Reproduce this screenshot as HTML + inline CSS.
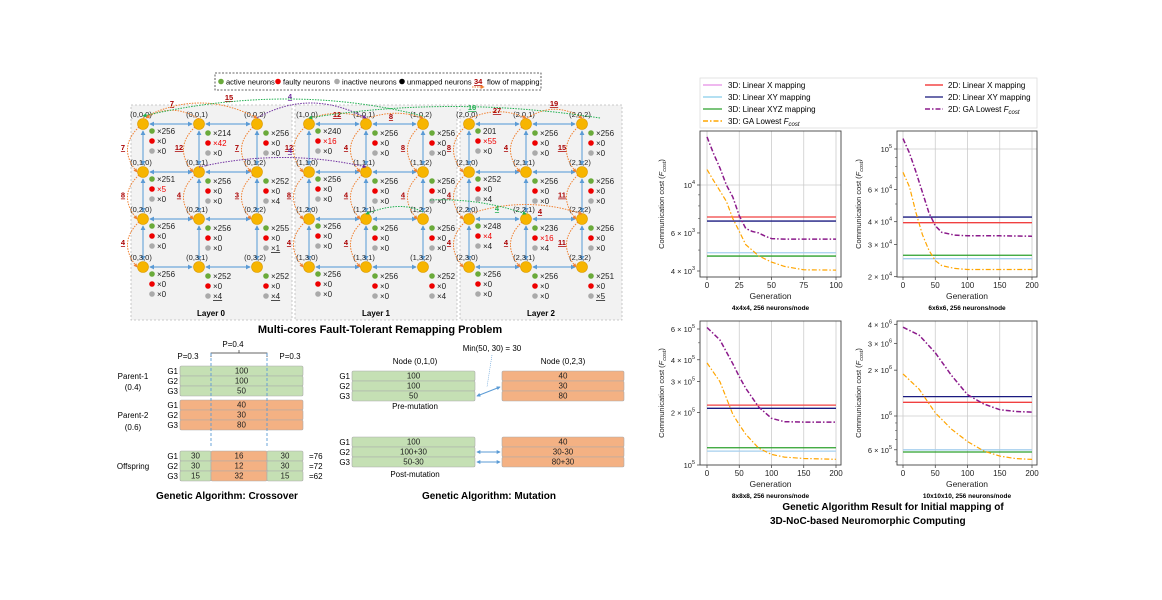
<!DOCTYPE html>
<html><head><meta charset="utf-8">
<style>
html,body{margin:0;padding:0;background:#fff;}
svg{display:block;font-family:"Liberation Sans",Arial,sans-serif;}
</style></head>
<body>
<svg id="root" width="1162" height="600" viewBox="0 0 1162 600" xmlns="http://www.w3.org/2000/svg">
<defs>
<marker id="ab" viewBox="0 0 6 6" refX="5" refY="3" markerWidth="4" markerHeight="4" orient="auto-start-reverse"><path d="M0,0L6,3L0,6z" fill="#5b9bd5"/></marker>
<marker id="ao" viewBox="0 0 6 6" refX="5" refY="3" markerWidth="4" markerHeight="4" orient="auto"><path d="M0,0L6,3L0,6z" fill="#f08030"/></marker>
<marker id="ap" viewBox="0 0 6 6" refX="5" refY="3" markerWidth="4" markerHeight="4" orient="auto"><path d="M0,0L6,3L0,6z" fill="#7030a0"/></marker>
<marker id="ag" viewBox="0 0 6 6" refX="5" refY="3" markerWidth="4" markerHeight="4" orient="auto"><path d="M0,0L6,3L0,6z" fill="#20b050"/></marker>
</defs>

<g>
<rect x="215" y="73" width="326" height="17" fill="#fff" stroke="#333" stroke-dasharray="2,1.5" stroke-width="0.8"/>
<circle cx="221" cy="81.5" r="2.8" fill="#6aaa3a"/><text x="226" y="84.5" font-size="7.5">active neurons</text>
<circle cx="278" cy="81.5" r="2.8" fill="#e00"/><text x="283" y="84.5" font-size="7.5">faulty neurons</text>
<circle cx="337" cy="81.5" r="2.8" fill="#aaa"/><text x="342" y="84.5" font-size="7.5">inactive neurons</text>
<circle cx="402" cy="81.5" r="2.8" fill="#000"/><text x="407" y="84.5" font-size="7.5">unmapped neurons</text>
<text x="474" y="84" font-size="7.5" fill="#a00" font-weight="bold" text-decoration="underline">34</text>
<path d="M472,87 L484,87" stroke="#f08030" stroke-dasharray="1.5,1" marker-end="url(#ao)"/>
<text x="487" y="84.5" font-size="7.5">flow of mapping</text>
</g>

<rect x="131" y="105" width="161" height="215" fill="#f2f2f2" stroke="#bbb" stroke-dasharray="2,2" stroke-width="0.8"/>
<rect x="295" y="105" width="162" height="215" fill="#f2f2f2" stroke="#bbb" stroke-dasharray="2,2" stroke-width="0.8"/>
<rect x="460" y="105" width="162" height="215" fill="#f2f2f2" stroke="#bbb" stroke-dasharray="2,2" stroke-width="0.8"/>
<text x="211" y="316" font-size="8" font-weight="bold" text-anchor="middle">Layer 0</text>
<text x="376" y="316" font-size="8" font-weight="bold" text-anchor="middle">Layer 1</text>
<text x="541" y="316" font-size="8" font-weight="bold" text-anchor="middle">Layer 2</text>
<g id="diag"></g>
<g id="arcs"></g>

<text x="380" y="333" font-size="11" font-weight="bold" text-anchor="middle">Multi-cores Fault-Tolerant Remapping Problem</text>

<g font-size="8">
<text x="233" y="347" text-anchor="middle">P=0.4</text>
<path d="M211,357 L211,353 L267,353 L267,357 M239,353 L239,350" fill="none" stroke="#333" stroke-width="0.7"/>
<text x="188" y="359" text-anchor="middle">P=0.3</text>
<text x="290" y="359" text-anchor="middle">P=0.3</text>
<text x="133" y="379" text-anchor="middle">Parent-1</text><text x="133" y="390" text-anchor="middle">(0.4)</text>
<text x="133" y="418" text-anchor="middle">Parent-2</text><text x="133" y="430" text-anchor="middle">(0.6)</text>
<text x="133" y="469" text-anchor="middle">Offspring</text>
<g id="cross"></g>
<line x1="211" y1="353" x2="211" y2="448" stroke="#5b9bd5" stroke-dasharray="3,2" stroke-width="0.9"/>
<line x1="267" y1="353" x2="267" y2="448" stroke="#5b9bd5" stroke-dasharray="3,2" stroke-width="0.9"/>
</g>
<text x="227" y="499" font-size="10" font-weight="bold" text-anchor="middle">Genetic Algorithm: Crossover</text>

<g font-size="8">
<text x="415" y="364" text-anchor="middle">Node (0,1,0)</text>
<text x="563" y="364" text-anchor="middle">Node (0,2,3)</text>
<text x="492" y="351" text-anchor="middle">Min(50, 30) = 30</text>
<line x1="492" y1="355" x2="487" y2="387" stroke="#5b9bd5" stroke-dasharray="1,1" stroke-width="0.6"/>
<text x="415" y="409" text-anchor="middle">Pre-mutation</text>
<text x="415" y="477" text-anchor="middle">Post-mutation</text>
<g id="mut"></g>
<line x1="477" y1="396" x2="500" y2="387" stroke="#5b9bd5" stroke-width="1" marker-start="url(#ab)" marker-end="url(#ab)"/>
<line x1="477" y1="452" x2="500" y2="452" stroke="#5b9bd5" stroke-width="1" marker-start="url(#ab)" marker-end="url(#ab)"/>
<line x1="477" y1="462" x2="500" y2="462" stroke="#5b9bd5" stroke-width="1" marker-start="url(#ab)" marker-end="url(#ab)"/>
</g>
<text x="489" y="499" font-size="10" font-weight="bold" text-anchor="middle">Genetic Algorithm: Mutation</text>

<g font-size="8">
<rect x="700" y="78" width="337" height="50" fill="#fff" stroke="#ddd" stroke-width="0.8"/>
<line x1="703" y1="85" x2="722" y2="85" stroke="#e58ee5" stroke-width="1.2"/><text x="728" y="88">3D: Linear X mapping</text>
<line x1="703" y1="97" x2="722" y2="97" stroke="#87ceeb" stroke-width="1.2"/><text x="728" y="100">3D: Linear XY mapping</text>
<line x1="703" y1="109" x2="722" y2="109" stroke="#2ca02c" stroke-width="1.2"/><text x="728" y="112">3D: Linear XYZ mapping</text>
<line x1="703" y1="121" x2="722" y2="121" stroke="#ffa500" stroke-width="1.4" stroke-dasharray="5,2,1.5,2"/><text x="728" y="124">3D: GA Lowest <tspan font-style="italic">F</tspan><tspan font-size="6" dy="2" font-style="italic">cost</tspan></text>
<line x1="925" y1="85" x2="943" y2="85" stroke="#f02020" stroke-width="1.2"/><text x="948" y="88">2D: Linear X mapping</text>
<line x1="925" y1="97" x2="943" y2="97" stroke="#14147a" stroke-width="1.2"/><text x="948" y="100">2D: Linear XY mapping</text>
<line x1="925" y1="109" x2="943" y2="109" stroke="#8b1a8b" stroke-width="1.6" stroke-dasharray="5,2,1.5,2"/><text x="948" y="112">2D: GA Lowest <tspan font-style="italic">F</tspan><tspan font-size="6" dy="2" font-style="italic">cost</tspan></text>
</g>
<g id="charts"></g>
<text x="893" y="510" font-size="10" font-weight="bold" text-anchor="middle">Genetic Algorithm Result for Initial mapping of</text>
<text x="770" y="524" font-size="10" font-weight="bold">3D-NoC-based Neuromorphic Computing</text>
</svg>

<script>
const gens1 = [0,5,10,15,20,25,30,35,40,45,50,60,75,100];
const purple1 = [16700,14000,12000,10000,8800,7200,6300,6100,6000,5800,5650,5620,5620,5620];
const orange1 = [11800,10500,9400,8400,7000,6100,5300,5000,4700,4550,4400,4200,4050,4040];
const flat1 = [7110,6810,4860,4690];

const gens2 = [0,10,20,30,40,50,60,80,100,150,200];
const purple2 = [114000,95000,75000,58000,45000,38000,35000,33800,33500,33500,33300];
const orange2 = [74600,62000,45000,34000,28000,24500,23000,22200,21900,21900,21900];
const flat2 = [39500,42400,25100,26200];

const gens3 = [0,20,40,50,60,80,100,120,150,200];
const purple3 = [612000,520000,380000,320000,275000,215000,185000,177000,176000,176000];
const orange3 = [384000,300000,195000,170000,150000,125000,115000,111000,109000,107800];
const flat3 = [220000,211000,120000,125500];

const gens4 = [0,25,50,75,100,125,150,175,200];
const purple4 = [3830000,3400000,2600000,1850000,1380000,1200000,1100000,1070000,1060000];
const orange4 = [1890000,1500000,1050000,820000,680000,590000,545000,525000,519000];
const flat4 = [1230000,1340000,600000,580000];

const flatColors = ['#f04040','#1a1a80','#a6cfee','#2ca02c'];
const flatNames = ['line-2d-linear-x','line-2d-linear-xy','line-3d-linear-xy','line-3d-linear-xyz'];

const NS='http://www.w3.org/2000/svg';
function mk(tag,attrs,parent,txt){const e=document.createElementNS(NS,tag);for(const k in attrs)e.setAttribute(k,attrs[k]);if(txt!==undefined)e.textContent=txt;parent.appendChild(e);return e;}

const charts=[
 {gens:gens1,purple:purple1,orange:orange1,flat:flat1,px:[700,841],py:[131,277],gx:[0,100,707,836],gy:[4000,271,10000,185],
  xt:[0,25,50,75,100],yt:[[10000,'10','4'],[6000,'6 × 10','3'],[4000,'4 × 10','3']],major:[10000],sub:'4x4x4, 256 neurons/node',minors:[5000,7000,8000,9000,20000]},
 {gens:gens2,purple:purple2,orange:orange2,flat:flat2,px:[897,1037],py:[131,277],gx:[0,200,903,1032],gy:[20000,276.7,100000,149],
  xt:[0,50,100,150,200],yt:[[100000,'10','5'],[60000,'6 × 10','4'],[40000,'4 × 10','4'],[30000,'3 × 10','4'],[20000,'2 × 10','4']],major:[100000],sub:'6x6x6, 256 neurons/node',minors:[50000,70000,80000,90000]},
 {gens:gens3,purple:purple3,orange:orange3,flat:flat3,px:[700,841],py:[321,465],gx:[0,200,707,836],gy:[100000,465,600000,329],
  xt:[0,50,100,150,200],yt:[[600000,'6 × 10','5'],[400000,'4 × 10','5'],[300000,'3 × 10','5'],[200000,'2 × 10','5'],[100000,'10','5']],major:[100000],sub:'8x8x8, 256 neurons/node',minors:[500000]},
 {gens:gens4,purple:purple4,orange:orange4,flat:flat4,px:[897,1037],py:[321,465],gx:[0,200,903,1032],gy:[1000000,416,4000000,324.3],
  xt:[0,50,100,150,200],yt:[[4000000,'4 × 10','6'],[3000000,'3 × 10','6'],[2000000,'2 × 10','6'],[1000000,'10','6'],[600000,'6 × 10','5']],major:[1000000],sub:'10x10x10, 256 neurons/node',minors:[700000,800000,900000,500000]}
];
const root=document.getElementById('charts');
charts.forEach((c,i)=>{
  const g=mk('g',{},root);
  
  
  const X=v=>c.gx[2]+(v-c.gx[0])/(c.gx[1]-c.gx[0])*(c.gx[3]-c.gx[2]);
  const ppd=(c.gy[1]-c.gy[3])/(Math.log10(c.gy[2])-Math.log10(c.gy[0]));
  const Y=v=>c.gy[1]-(Math.log10(v)-Math.log10(c.gy[0]))*ppd;
  mk('rect',{x:c.px[0],y:c.py[0],width:c.px[1]-c.px[0],height:c.py[1]-c.py[0],fill:'#fff'},g);
  c.xt.forEach(t=>{
    mk('line',{x1:X(t),x2:X(t),y1:c.py[0],y2:c.py[1],stroke:'#ccc','stroke-width':0.8},g);
    mk('line',{x1:X(t),x2:X(t),y1:c.py[1],y2:c.py[1]+3,stroke:'#333','stroke-width':0.7},g);
    const tl=mk('text',{x:X(t),y:c.py[1]+11,'font-size':8,'text-anchor':'middle',fill:'#222'},g,String(t));
    
    
  });
  c.major.forEach(v=>mk('line',{x1:c.px[0],x2:c.px[1],y1:Y(v),y2:Y(v),stroke:'#ccc','stroke-width':0.8},g));
  c.minors.forEach(v=>{const y=Y(v);if(y>c.py[0]&&y<c.py[1])mk('line',{x1:c.px[0]-2,x2:c.px[0],y1:y,y2:y,stroke:'#333','stroke-width':0.5},g);});
  c.yt.forEach(t=>{
    const y=Y(t[0]);
    mk('line',{x1:c.px[0]-3,x2:c.px[0],y1:y,y2:y,stroke:'#333','stroke-width':0.7},g);
    const tl=mk('text',{x:c.px[0]-5,y:y+3,'font-size':7.5,'text-anchor':'end',fill:'#222'},g);
    
    
    mk('tspan',{},tl,t[1]);
    mk('tspan',{'font-size':5.5,dy:-4},tl,t[2]);
  });
  c.flat.forEach((v,k)=>{
    const l=mk('line',{x1:X(c.gx[0]),x2:X(c.gx[1]),y1:Y(v),y2:Y(v),stroke:flatColors[k],'stroke-width':1.3},g);
    
    
  });
  const pts=(arr)=>arr.map((v,k)=>X(c.gens[k]).toFixed(1)+','+Y(v).toFixed(1)).join(' ');
  const po=mk('polyline',{points:pts(c.orange),fill:'none',stroke:'#ffa500','stroke-width':1.2,'stroke-dasharray':'5,2,1.5,2'},g);
  
  
  const pp=mk('polyline',{points:pts(c.purple),fill:'none',stroke:'#8b1a8b','stroke-width':1.5,'stroke-dasharray':'5,2,1.5,2'},g);
  
  
  mk('rect',{x:c.px[0],y:c.py[0],width:c.px[1]-c.px[0],height:c.py[1]-c.py[0],fill:'none',stroke:'#444','stroke-width':0.9},g);
  const cx=(c.px[0]+c.px[1])/2;
  const xl=mk('text',{x:cx,y:c.py[1]+22,'font-size':8.5,'text-anchor':'middle',fill:'#222'},g,'Generation');
  
  
  const st=mk('text',{x:cx,y:c.py[1]+33,'font-size':6.5,'font-weight':'bold','text-anchor':'middle'},g,c.sub);
  
  
  const ax=c.px[0]-36, ay=(c.py[0]+c.py[1])/2;
  const yl=mk('text',{x:ax,y:ay,'font-size':7.5,'text-anchor':'middle',fill:'#222',transform:'rotate(-90 '+ax+' '+ay+')'},g);
  
  
  mk('tspan',{},yl,'Communication cost (');
  mk('tspan',{'font-style':'italic'},yl,'F');
  mk('tspan',{'font-style':'italic','font-size':5.5,dy:2},yl,'cost');
  mk('tspan',{dy:-2},yl,')');
});

const colX=[[143,199,257],[309,366,423],[469,526,582]];
const rowY=[124,172,219,267];
const stats=[
 [[[256,0,0],[214,42,0],[256,0,0]],[[251,5,0],[256,0,0],[252,0,4]],[[256,0,0],[256,0,0],[255,0,1]],[[256,0,0],[252,0,4],[252,0,4]]],
 [[[240,16,0],[256,0,0],[256,0,0]],[[256,0,0],[256,0,0],[256,0,0]],[[256,0,0],[256,0,0],[256,0,0]],[[256,0,0],[256,0,0],[252,0,4]]],
 [[[201,55,0],[256,0,0],[256,0,0]],[[252,0,4],[256,0,0],[256,0,0]],[[248,4,4],[236,16,4],[256,0,0]],[[256,0,0],[256,0,0],[251,0,5]]]
];
const D=document.getElementById('diag');
for(let L=0;L<3;L++){
  for(let r=0;r<4;r++)for(let c=0;c<3;c++){
    const x=colX[L][c],y=rowY[r];
    if(c<2)mk('line',{x1:x+7,y1:y,x2:colX[L][c+1]-7,y2:y,stroke:'#6fa8dc','stroke-width':1.2,'marker-start':'url(#ab)','marker-end':'url(#ab)'},D);
    if(r<3)mk('line',{x1:x,y1:y+7,x2:x,y2:rowY[r+1]-7,stroke:'#6fa8dc','stroke-width':1.2,'marker-start':'url(#ab)','marker-end':'url(#ab)'},D);
  }
  for(let r=0;r<4;r++)for(let c=0;c<3;c++){
    const x=colX[L][c],y=rowY[r];
    const n=mk('circle',{cx:x,cy:y,r:5.5,fill:'#f7b500',stroke:'#d99a00','stroke-width':0.6},D);
    
    
    mk('text',{x:x-2,y:y-7,'font-size':7.5,'text-anchor':'middle',fill:'#222'},D,'('+L+','+r+','+c+')');
    const s=stats[L][r][c], dy=(c===0)?7:9, sx=x+9;
    const cols=['#6aaa3a','#e00','#aaa'];
    for(let k=0;k<3;k++){
      const yy=y+dy+k*10;
      mk('circle',{cx:sx,cy:yy,r:2.8,fill:cols[k]},D);
      const red=(k===1&&s[1]>0);
      const label=(L===2&&r===0&&c===0&&k===0)?String(s[0]):'×'+s[k];
      const t=mk('text',{x:sx+5,y:yy+3,'font-size':8,fill:red?'#e00':'#222'},D,label);
      if(k===2&&((L===0&&r===3&&c>0)||(L===0&&r===2&&c===2)||(L===2&&r===3&&c===2)))t.setAttribute('text-decoration','underline');
    }
  }
}
const A=document.getElementById('arcs');
function arc(x1,y1,x2,y2,cx,cy,col,mark,lab,lx,ly){
  mk('path',{d:`M${x1},${y1} Q${cx},${cy} ${x2},${y2}`,fill:'none',stroke:col,'stroke-width':1,'stroke-dasharray':'1.5,1.2','marker-end':`url(#${mark})`},A);
  if(lab)mk('text',{x:lx,y:ly,'font-size':7.5,'font-weight':'bold',fill:mark==='ao'?'#a00':col,'text-decoration':'underline','text-anchor':'middle'},A,lab);
}
const O='#f08030';
const vl=[[0,0,'7',0],[0,1,'8',0],[0,2,'4',0],[0,0,'12',1],[0,1,'4',1],[0,0,'7',2],[0,1,'3',2],
 [1,0,'12',0],[1,1,'8',0],[1,2,'4',0],[1,0,'4',1],[1,1,'4',1],[1,2,'4',1],[1,0,'8',2],[1,1,'4',2],
 [2,0,'8',0],[2,1,'4',0],[2,2,'4',0],[2,0,'4',1],[2,2,'4',1],[2,0,'15',2],[2,1,'11',2],[2,2,'11',2]];
vl.forEach(a=>{const L=a[0],r=a[1],c=a[3];const x=colX[L][c],y1=rowY[r],y2=rowY[r+1];
  arc(x-4,y1+3,x-6,y2,x-26,(y1+y2)/2,O,'ao',a[2],x-20,(y1+y2)/2+2);});
arc(199,119,146,118,172,102,O,'ao','7',172,106);
arc(143,118,257,118,200,88,O,'ao','15',229,100);
arc(366,119,423,118,395,108,O,'ao','8',391,119);
arc(309,119,366,118,337,108,O,'ao','12',337,117);
arc(469,119,526,118,497,105,O,'ao','27',497,113);
arc(526,119,582,118,554,100,O,'ao','19',554,106);
arc(469,214,582,214,526,195,O,'ao','4',540,214);
arc(257,118,366,118,310,88,'#7030a0','ap','4',290,99);
arc(199,167,366,167,283,148,'#7030a0','ap','4',290,153);
arc(423,116,143,116,290,82,'#20b050','ag','16',472,110);
arc(600,118,309,118,450,95,'#20b050','ag','',0,0);
arc(423,212,366,214,400,200,'#20b050','ag','',0,0);
arc(430,200,526,214,480,198,'#20b050','ag','4',497,211);

const CR=document.getElementById('cross');
function bar(x,y,w,h,fill,txt,parent){mk('rect',{x:x,y:y,width:w,height:h,rx:1.5,fill:fill,stroke:'#aaa','stroke-width':0.6},parent);if(txt!==undefined)mk('text',{x:x+w/2,y:y+h-2.3,'font-size':8,'text-anchor':'middle',fill:'#222'},parent,txt);}
const G='#c5e0b4',Or='#f4b183';
const p1=['100','100','50'],p2=['40','30','80'];
p1.forEach((v,k)=>{bar(180,366+k*10,123,10,G,v,CR);mk('text',{x:178,y:374+k*10,'font-size':8,'text-anchor':'end'},CR,'G'+(k+1));});
p2.forEach((v,k)=>{bar(180,400+k*10,123,10,Or,v,CR);mk('text',{x:178,y:408+k*10,'font-size':8,'text-anchor':'end'},CR,'G'+(k+1));});
const off=[['30','16','30','=76'],['30','12','30','=72'],['15','32','15','=62']];
off.forEach((r,k)=>{const y=451+k*10;
 bar(180,y,31,10,G,r[0],CR);bar(211,y,56,10,Or,r[1],CR);bar(267,y,36,10,G,r[2],CR);
 mk('text',{x:178,y:y+8,'font-size':8,'text-anchor':'end'},CR,'G'+(k+1));
 mk('text',{x:309,y:y+8,'font-size':8},CR,r[3]);});
const MU=document.getElementById('mut');
[['100','40'],['100','30'],['50','80']].forEach((r,k)=>{const y=371+k*10;
 bar(352,y,123,10,G,r[0],MU);bar(502,y,122,10,Or,r[1],MU);
 mk('text',{x:350,y:y+8,'font-size':8,'text-anchor':'end'},MU,'G'+(k+1));});
[['100','40'],['100+30','30-30'],['50-30','80+30']].forEach((r,k)=>{const y=437+k*10;
 bar(352,y,123,10,G,r[0],MU);bar(502,y,122,10,Or,r[1],MU);
 mk('text',{x:350,y:y+8,'font-size':8,'text-anchor':'end'},MU,'G'+(k+1));});
</script>
</body></html>
